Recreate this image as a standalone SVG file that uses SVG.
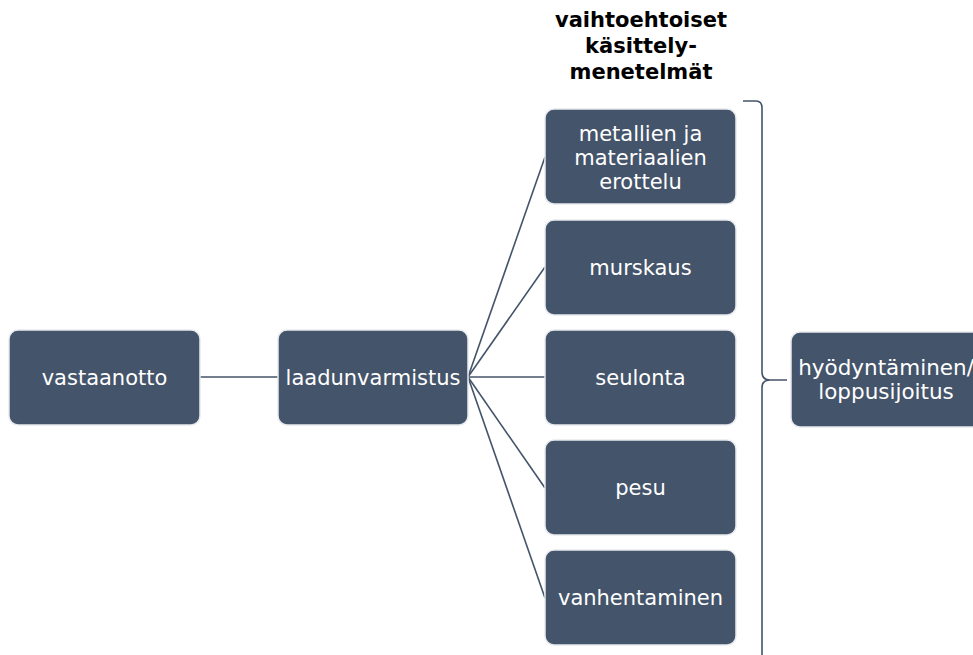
<svg xmlns="http://www.w3.org/2000/svg" width="973" height="655" viewBox="0 0 973 655">
<style>
.box{fill:#44546A;stroke:#e8eaee;stroke-width:1.5}
.t{fill:#ffffff;font-family:"DejaVu Sans",Verdana,sans-serif;font-size:21px;text-anchor:middle}
.h{fill:#000000;font-family:"DejaVu Sans",Verdana,sans-serif;font-size:21px;font-weight:bold;text-anchor:middle}
.c{stroke:#44546A;stroke-width:1.6;fill:none}
</style>
<rect width="973" height="655" fill="#ffffff"/>
<g id="connectors">
<line class="c" x1="200" y1="377" x2="278" y2="377"/>
<line class="c" x1="468" y1="377" x2="545" y2="157"/>
<line class="c" x1="468" y1="377" x2="545" y2="267"/>
<line class="c" x1="468" y1="377" x2="545" y2="377"/>
<line class="c" x1="468" y1="377" x2="545" y2="488"/>
<line class="c" x1="468" y1="377" x2="545" y2="598"/>
<path class="c" d="M743,101 L756,101 Q762,101 762,108 L762,372 Q762,380 770,380 L787,380 M770,380 Q762,380 762,388 L762,656"/>
</g>
<g id="title">
<text class="h" x="641" y="27">vaihtoehtoiset</text>
<text class="h" x="641" y="53">käsittely-</text>
<text class="h" x="641" y="79">menetelmät</text>
</g>
<g id="vastaanotto">
<rect class="box" x="9" y="330" width="191" height="95" rx="9"/>
<text class="t" x="104.5" y="385">vastaanotto</text>
</g>
<g id="laadunvarmistus">
<rect class="box" x="278" y="330" width="190" height="95" rx="9"/>
<text class="t" x="373" y="385">laadunvarmistus</text>
</g>
<g id="metallien">
<rect class="box" x="545" y="109" width="191" height="95" rx="9"/>
<text class="t" x="640.5" y="141">metallien ja</text>
<text class="t" x="640.5" y="165">materiaalien</text>
<text class="t" x="640.5" y="189">erottelu</text>
</g>
<g id="murskaus">
<rect class="box" x="545" y="220" width="191" height="95" rx="9"/>
<text class="t" x="640.5" y="275">murskaus</text>
</g>
<g id="seulonta">
<rect class="box" x="545" y="330" width="191" height="95" rx="9"/>
<text class="t" x="640.5" y="385">seulonta</text>
</g>
<g id="pesu">
<rect class="box" x="545" y="440" width="191" height="95" rx="9"/>
<text class="t" x="640.5" y="495">pesu</text>
</g>
<g id="vanhentaminen">
<rect class="box" x="545" y="550" width="191" height="95" rx="9"/>
<text class="t" x="640.5" y="605">vanhentaminen</text>
</g>
<g id="hyodyntaminen">
<rect class="box" x="791" y="332" width="200" height="95" rx="9"/>
<text class="t" x="886" y="375" style="font-size:21.5px">hyödyntäminen/</text>
<text class="t" x="886" y="399" style="font-size:21.5px">loppusijoitus</text>
</g>
</svg>
